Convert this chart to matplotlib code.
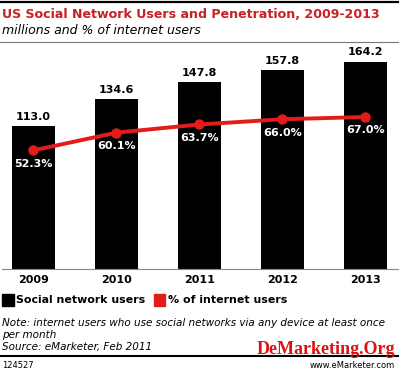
import numpy as np
import matplotlib
matplotlib.use("Agg")
import matplotlib.pyplot as plt
from matplotlib.patches import Rectangle

years = ["2009", "2010", "2011", "2012", "2013"]
users = [113.0, 134.6, 147.8, 157.8, 164.2]
pct = [52.3, 60.1, 63.7, 66.0, 67.0]

RED = "#e41b1b"
TITLE_RED = "#cc1f24"

plt.rcParams['font.family'] = ['DejaVu Sans']

W, H = 400, 372
fig = plt.figure(figsize=(W / 100, H / 100), dpi=100)

def fx(px):
    return px / W

def fy(py):
    return 1 - py / H

# axes: baseline at y=269px, top at y=48px
ax = fig.add_axes([fx(2), fy(269), fx(396), (269 - 48) / H])
x = np.arange(len(years))
ax.bar(x, users, width=0.518, color="black", zorder=2)
ax.set_xlim((2 - 33.5) / 83, (398 - 33.5) / 83)
ax.set_ylim(0, 175)
for xi, v in zip(x, users):
    ax.annotate(f"{v:.1f}", (xi, v), xytext=(0, 3), textcoords="offset points",
                ha="center", va="bottom", fontsize=8, fontweight="bold")
for s in ["top", "right", "left"]:
    ax.spines[s].set_visible(False)
ax.spines["bottom"].set_color("#888888")
ax.spines["bottom"].set_linewidth(0.8)
ax.set_yticks([])
ax.set_xticks(x)
ax.set_xticklabels(years, fontsize=8, fontweight="bold")
ax.tick_params(axis="x", length=0, pad=4)

ax2 = ax.twinx()
ax2.set_ylim(0, 97.4)
ax2.plot(x, pct, color=RED, lw=2.8, marker="o", ms=6.5, zorder=3)
for xi, v in zip(x, pct):
    ax2.annotate(f"{v:.1f}%", (xi, v), xytext=(0, -6), textcoords="offset points",
                 ha="center", va="top", fontsize=8, fontweight="bold", color="white")
ax2.axis("off")

# header
fig.add_artist(plt.Line2D([fx(0), fx(398)], [fy(2), fy(2)], color="black", lw=1.6))
fig.text(fx(2), fy(14), "US Social Network Users and Penetration, 2009-2013",
         color=TITLE_RED, fontsize=9.1, fontweight="bold", va="center")
fig.text(fx(2), fy(30), "millions and % of internet users", fontsize=9,
         style="italic", va="center")
fig.add_artist(plt.Line2D([fx(0), fx(398)], [fy(42), fy(42)], color="#777777", lw=0.8))

# legend
fig.add_artist(Rectangle((fx(2), fy(306)), fx(12), 12 / H, color="black"))
fig.text(fx(16), fy(300), "Social network users", fontsize=7.9, fontweight="bold", va="center")
fig.add_artist(Rectangle((fx(154), fy(306)), fx(11), 12 / H, color=RED))
fig.text(fx(168), fy(300), "% of internet users", fontsize=7.9, fontweight="bold", va="center")

# notes
fig.text(fx(2), fy(323), "Note: internet users who use social networks via any device at least once",
         fontsize=7.5, style="italic", va="center")
fig.text(fx(2), fy(335), "per month", fontsize=7.5, style="italic", va="center")
fig.text(fx(2), fy(347), "Source: eMarketer, Feb 2011", fontsize=7.5, style="italic", va="center")
fig.add_artist(plt.Line2D([fx(0), fx(398)], [fy(356), fy(356)], color="black", lw=1.5))
fig.text(fx(2), fy(366), "124527", fontsize=6, va="center")
fig.text(fx(395), fy(366), "www.eMarketer.com", fontsize=6, va="center", ha="right")
fig.text(fx(395), fy(350), "DeMarketing.Org", fontsize=13, fontweight="bold",
         family="Liberation Serif", color="#dd1111", va="center", ha="right")

fig.savefig("out.png", dpi=100)
